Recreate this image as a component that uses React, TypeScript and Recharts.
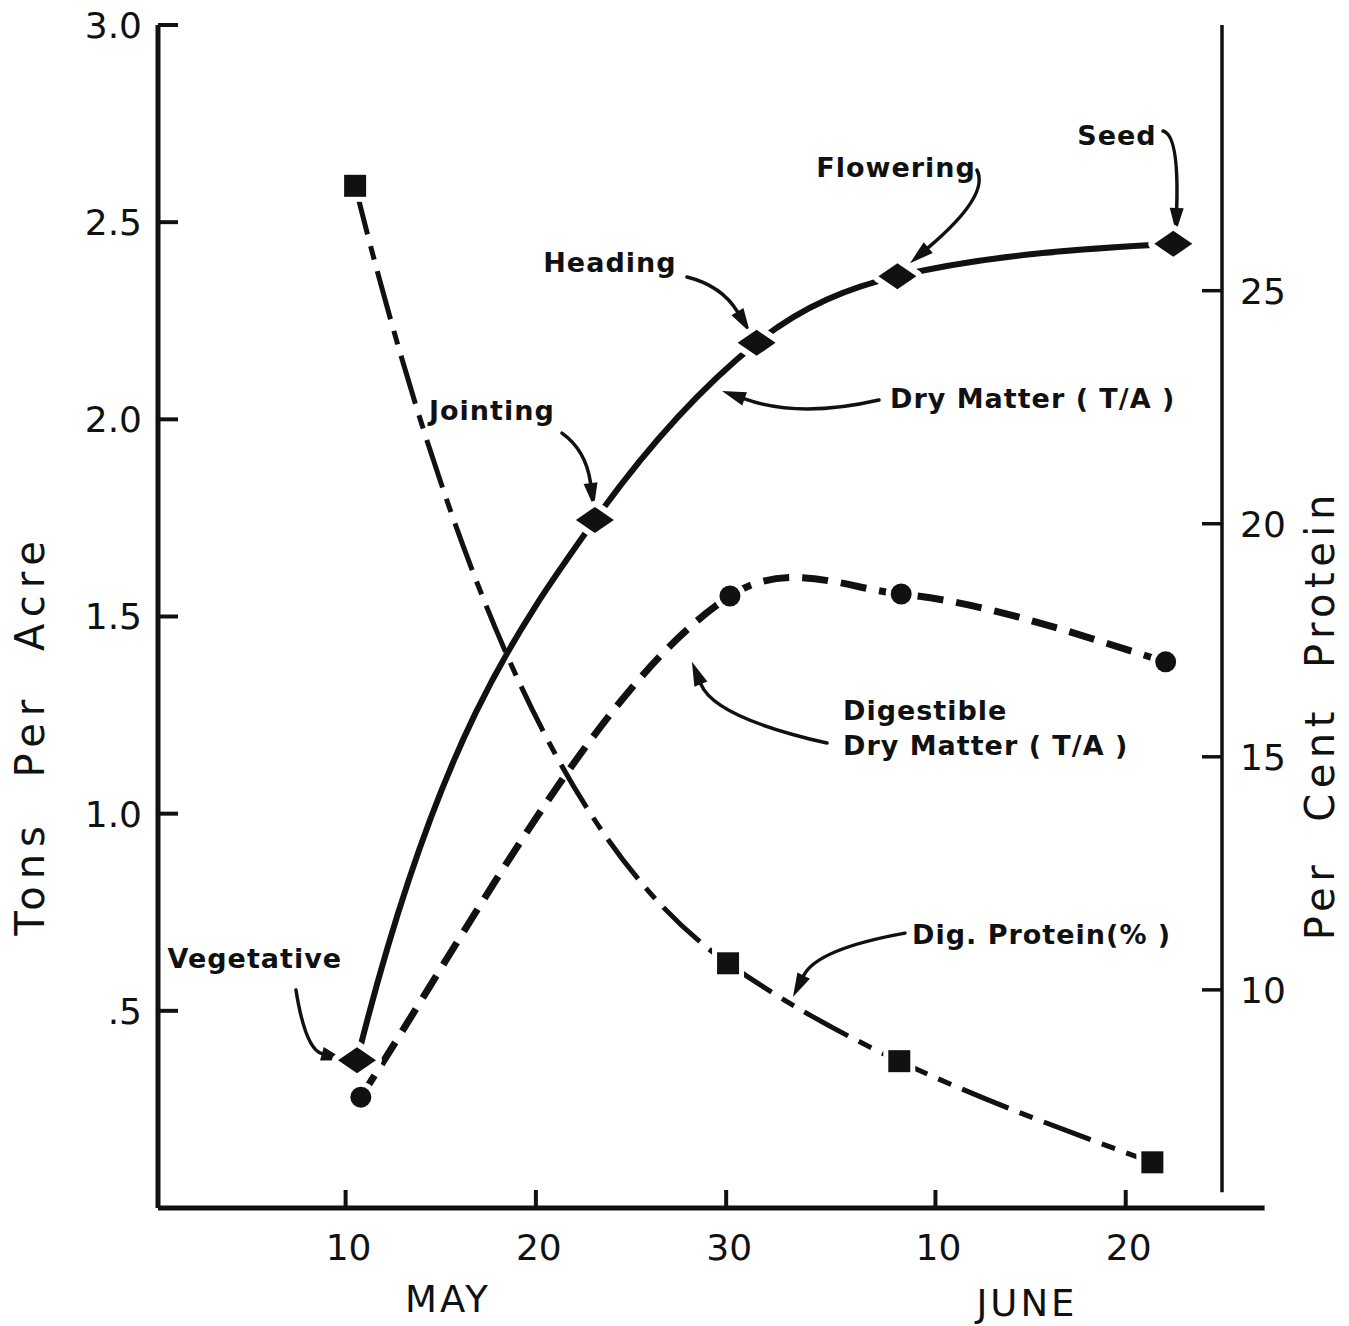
import { LineChart, Line, XAxis, YAxis, ReferenceLine, ReferenceDot } from 'recharts';

// x values are days counted from May 0 (June n = 31 + n)
const dayTicks = [10, 20, 30, 41, 51];
const dayTickLabels = ['10', '20', '30', '10', '20'];
const tonTicks = [0.5, 1, 1.5, 2, 2.5, 3];
const tonTickLabels = ['.5', '1.0', '1.5', '2.0', '2.5', '3.0'];
const proteinTicks = [10, 15, 20, 25];

const dryMatterDays = [10.6, 23.1, 31.6, 39.0, 53.5];
const dryMatterTons = [0.375, 1.745, 2.194, 2.363, 2.445];
const digestibleDays = [10.8, 30.2, 39.2, 53.1];
const digestibleTons = [0.281, 1.552, 1.557, 1.385];
const proteinDays = [10.5, 30.1, 39.1, 52.4];
const proteinPct = [27.25, 10.57, 8.47, 6.3];

const dryMatter = dryMatterDays.map((day, i) => ({ day, tons: dryMatterTons[i] }));
const digestible = digestibleDays.map((day, i) => ({ day, tons: digestibleTons[i] }));
const protein = proteinDays.map((day, i) => ({ day, pct: proteinPct[i] }));

const X_DOMAIN: [number, number] = [0.14, 56.06];
const X_AXIS_END = 58.3;
const RIGHT_DOMAIN: [number, number] = [5.32, 30.7];

// text notes, anchored in chart units (left axis)
const notes = [
  { text: 'Vegetative', at: [5.23, 0.609], anchor: 'middle' },
  { text: 'Jointing', at: [17.69, 1.998], anchor: 'middle' },
  { text: 'Heading', at: [23.89, 2.374], anchor: 'middle' },
  { text: 'Flowering', at: [38.93, 2.615], anchor: 'middle' },
  { text: 'Seed', at: [50.54, 2.696], anchor: 'middle' },
  { text: 'Dry Matter ( T/A )', at: [38.61, 2.029], anchor: 'start' },
  { text: 'Digestible', at: [36.14, 1.238], anchor: 'start' },
  { text: 'Dry Matter ( T/A )', at: [36.14, 1.149], anchor: 'start' },
  { text: 'Dig. Protein(% )', at: [39.77, 0.669], anchor: 'start' },
];

// bend = [along chord, across chord] for the control point
const arrows = [
  { from: [7.39, 0.553], to: [9.97, 0.375], bend: [0.629, 0.305] },
  { from: [21.37, 1.965], to: [23.05, 1.778], bend: [0.312, -0.19] },
  { from: [27.94, 2.361], to: [31.25, 2.221], bend: [0.378, -0.195] },
  { from: [43.18, 2.632], to: [39.66, 2.396], bend: [0.111, -0.22] },
  { from: [52.96, 2.731], to: [53.64, 2.475], bend: [0.057, -0.151] },
  { from: [38.03, 2.049], to: [29.78, 2.072], bend: [0.498, -0.146] },
  { from: [35.3, 1.179], to: [28.2, 1.385], bend: [0.696, -0.229] },
  { from: [39.4, 0.697], to: [33.51, 0.535], bend: [0.654, 0.231] },
];

const months = [
  { text: 'MAY', at: [15.38, -0.265] },
  { text: 'JUNE', at: [45.81, -0.275] },
];

const ink = '#111';
const tickFont = { fontFamily: 'DejaVu Sans', fontSize: 36, fill: ink };
const noteFont = { fontFamily: 'DejaVu Sans', fontSize: 27, fontWeight: 700, letterSpacing: 1, fill: ink };
const titleFont = { fontFamily: 'DejaVu Sans', fontSize: 40, letterSpacing: 7, wordSpacing: 22, fill: ink };

// hand-drawn look: cubic Hermite through the points, tangents from neighbours,
// each tangent scaled by the factor given for that point
function handCurve(scales: number[]) {
  return (context: any) => {
    let xs: number[] = [];
    let ys: number[] = [];
    return {
      areaStart() {},
      areaEnd() {},
      lineStart() {
        xs = [];
        ys = [];
      },
      point(x: number, y: number) {
        xs.push(+x);
        ys.push(+y);
      },
      lineEnd() {
        const n = xs.length;
        if (!n) return;
        context.moveTo(xs[0], ys[0]);
        if (n < 3) {
          if (n === 2) context.lineTo(xs[1], ys[1]);
          return;
        }
        const seg = [];
        for (let i = 0; i < n - 1; i++) seg.push((ys[i + 1] - ys[i]) / (xs[i + 1] - xs[i]));
        const m = new Array(n);
        for (let i = 1; i < n - 1; i++) m[i] = (ys[i + 1] - ys[i - 1]) / (xs[i + 1] - xs[i - 1]);
        m[0] = (3 * seg[0] - m[1]) / 2;
        m[n - 1] = (3 * seg[n - 2] - m[n - 2]) / 2;
        for (let i = 0; i < n; i++) m[i] *= scales[i] ?? 1;
        for (let i = 0; i < n - 1; i++) {
          const h = (xs[i + 1] - xs[i]) / 3;
          context.bezierCurveTo(xs[i] + h, ys[i] + m[i] * h, xs[i + 1] - h, ys[i + 1] - m[i + 1] * h, xs[i + 1], ys[i + 1]);
        }
      },
    };
  };
}

function LeftTick(props: any) {
  const { x, y, payload } = props;
  const axisX = x + 16;
  return (
    <g>
      <line x1={axisX} y1={y} x2={axisX + 20} y2={y} stroke={ink} strokeWidth={4} />
      <text x={x} y={y} dy="0.36em" textAnchor="end" style={tickFont}>
        {tonTickLabels[tonTicks.indexOf(payload.value)]}
      </text>
    </g>
  );
}

function RightTick(props: any) {
  const { x, y, payload } = props;
  const axisX = x - 18;
  return (
    <g>
      <line x1={axisX} y1={y} x2={axisX - 20} y2={y} stroke={ink} strokeWidth={3.5} />
      <text x={x} y={y} dy="0.36em" textAnchor="start" style={tickFont}>
        {payload.value}
      </text>
    </g>
  );
}

function BottomTick(props: any) {
  const { x, y, payload } = props;
  const axisY = y - 52;
  return (
    <g>
      <line x1={x} y1={axisY} x2={x} y2={axisY - 18} stroke={ink} strokeWidth={4} />
      <text x={x + 3} y={y} textAnchor="middle" style={tickFont}>
        {dayTickLabels[dayTicks.indexOf(payload.value)]}
      </text>
    </g>
  );
}

function LeftTitle(props: any) {
  const vb = props.viewBox || {};
  const cx = (vb.x ?? 0) + 30;
  const cy = (vb.y ?? 25) + (vb.height ?? 1183) * 0.6;
  return (
    <text x={cx} y={cy} transform={`rotate(-90 ${cx} ${cy})`} textAnchor="middle" dominantBaseline="central" style={titleFont}>
      Tons Per Acre
    </text>
  );
}

function RightTitle(props: any) {
  const vb = props.viewBox || {};
  const cx = (vb.x ?? 1222) + 98;
  const cy = (vb.y ?? 25) + (vb.height ?? 1183) * 0.583;
  return (
    <text x={cx} y={cy} transform={`rotate(-90 ${cx} ${cy})`} textAnchor="middle" dominantBaseline="central" style={{ ...titleFont, letterSpacing: 5.5, wordSpacing: 20 }}>
      Per Cent Protein
    </text>
  );
}

function CurvedArrow(props: any) {
  const { x1, y1, x2, y2, bend } = props;
  const dx = x2 - x1;
  const dy = y2 - y1;
  const cx = x1 + bend[0] * dx - bend[1] * dy;
  const cy = y1 + bend[0] * dy + bend[1] * dx;
  const ang = Math.atan2(y2 - cy, x2 - cx);
  const L = 24;
  const Wd = 7;
  const bx = x2 - L * Math.cos(ang);
  const by = y2 - L * Math.sin(ang);
  const s = Math.sin(ang);
  const c = Math.cos(ang);
  return (
    <g>
      <path d={`M${x1},${y1} Q${cx},${cy} ${bx},${by}`} fill="none" stroke={ink} strokeWidth={3.5} strokeLinecap="round" />
      <polygon points={`${x2},${y2} ${bx + Wd * s},${by - Wd * c} ${bx - Wd * s},${by + Wd * c}`} fill={ink} />
    </g>
  );
}

const diamondDot = (p: any) => (
  <polygon
    key={`dm-${p.index}`}
    points={`${p.cx - 19},${p.cy} ${p.cx},${p.cy - 13} ${p.cx + 19},${p.cy} ${p.cx},${p.cy + 13}`}
    fill={ink}
    stroke="#fff"
    strokeWidth={12}
    strokeLinejoin="round"
    paintOrder="stroke"
  />
);

const circleDot = (p: any) => (
  <circle key={`ci-${p.index}`} cx={p.cx} cy={p.cy} r={10.5} fill={ink} stroke="#fff" strokeWidth={10} paintOrder="stroke" />
);

const squareDot = (p: any) => (
  <rect key={`sq-${p.index}`} x={p.cx - 11} y={p.cy - 11} width={22} height={22} fill={ink} stroke="#fff" strokeWidth={10} paintOrder="stroke" />
);

export default function App() {
  return (
    <div style={{ position: 'absolute', left: 0, top: 0, background: '#fff' }}>
      <LineChart width={1349} height={1326} margin={{ top: 25, right: 0, bottom: 0, left: 0 }}>
        <XAxis
          dataKey="day"
          type="number"
          domain={X_DOMAIN}
          ticks={dayTicks}
          interval={0}
          height={118}
          tickSize={0}
          tickMargin={52}
          tickLine={false}
          axisLine={{ stroke: ink, strokeWidth: 5 }}
          tick={<BottomTick />}
        />
        <YAxis
          yAxisId="left"
          orientation="left"
          domain={[0, 3]}
          ticks={tonTicks}
          interval={0}
          width={158}
          tickSize={0}
          tickMargin={16}
          tickLine={false}
          axisLine={{ stroke: ink, strokeWidth: 5 }}
          tick={<LeftTick />}
          label={{ content: LeftTitle }}
        />
        <YAxis
          yAxisId="right"
          orientation="right"
          domain={RIGHT_DOMAIN}
          ticks={proteinTicks}
          interval={0}
          width={127}
          tickSize={0}
          tickMargin={18}
          tickLine={false}
          axisLine={false}
          tick={<RightTick />}
          label={{ content: RightTitle }}
        />

        <ReferenceLine
          yAxisId="left"
          segment={[{ x: X_DOMAIN[1], y: 0 }, { x: X_AXIS_END, y: 0 }]}
          stroke={ink}
          strokeWidth={5}
          ifOverflow="visible"
        />
        <ReferenceLine
          yAxisId="right"
          segment={[{ x: X_DOMAIN[1], y: 5.66 }, { x: X_DOMAIN[1], y: RIGHT_DOMAIN[1] }]}
          stroke={ink}
          strokeWidth={3.5}
          ifOverflow="visible"
        />

        <Line
          yAxisId="left"
          data={dryMatter}
          dataKey="tons"
          type={handCurve([1.6, 0.78, 1, 1, 1]) as any}
          stroke={ink}
          strokeWidth={6}
          dot={diamondDot}
          activeDot={false}
          isAnimationActive={false}
        />
        <Line
          yAxisId="left"
          data={digestible}
          dataKey="tons"
          type={handCurve([1, 0.7, 0.7, 1]) as any}
          stroke={ink}
          strokeWidth={7}
          strokeDasharray="26 13"
          dot={circleDot}
          activeDot={false}
          isAnimationActive={false}
        />
        <Line
          yAxisId="right"
          data={protein}
          dataKey="pct"
          type={handCurve([1.72, 0.435, 1, 1]) as any}
          stroke={ink}
          strokeWidth={5}
          strokeDasharray="50 12 14 12"
          dot={squareDot}
          activeDot={false}
          isAnimationActive={false}
        />

        {arrows.map((a, i) => (
          <ReferenceLine
            key={`ar-${i}`}
            yAxisId="left"
            segment={[{ x: a.from[0], y: a.from[1] }, { x: a.to[0], y: a.to[1] }]}
            ifOverflow="visible"
            shape={(p: any) => <CurvedArrow {...p} bend={a.bend} />}
          />
        ))}
        {notes.map((n, i) => (
          <ReferenceDot
            key={`nt-${i}`}
            yAxisId="left"
            x={n.at[0]}
            y={n.at[1]}
            r={0}
            ifOverflow="visible"
            shape={(p: any) => (
              <text x={p.cx} y={p.cy} textAnchor={n.anchor as any} style={noteFont}>
                {n.text}
              </text>
            )}
          />
        ))}
        {months.map((m, i) => (
          <ReferenceDot
            key={`mo-${i}`}
            yAxisId="left"
            x={m.at[0]}
            y={m.at[1]}
            r={0}
            ifOverflow="visible"
            shape={(p: any) => (
              <text x={p.cx} y={p.cy} textAnchor="middle" style={{ ...tickFont, fontSize: 37, letterSpacing: 3 }}>
                {m.text}
              </text>
            )}
          />
        ))}
      </LineChart>
    </div>
  );
}
